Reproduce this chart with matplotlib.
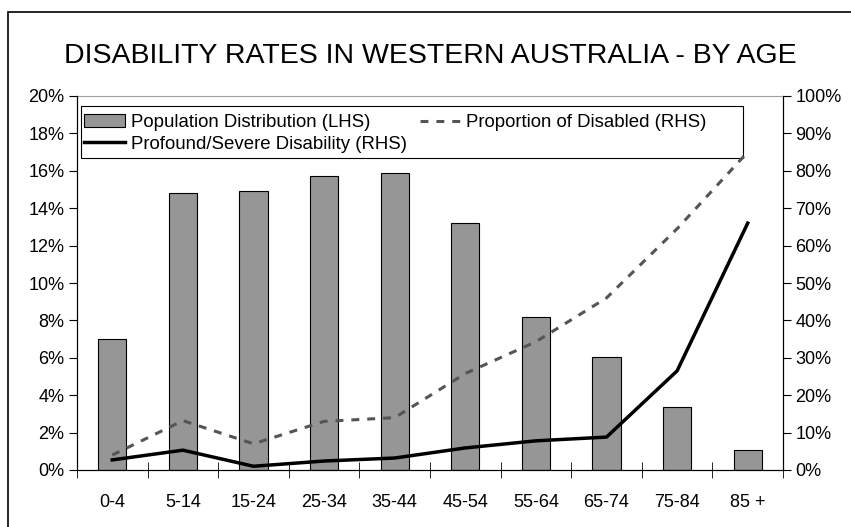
import matplotlib.pyplot as plt
import numpy as np
from matplotlib.patches import Rectangle
from matplotlib.ticker import PercentFormatter

plt.rcParams['font.family'] = ['Liberation Sans', 'DejaVu Sans']

ages = ['0-4', '5-14', '15-24', '25-34', '35-44', '45-54', '55-64', '65-74', '75-84', '85 +']
population = [7.0, 14.8, 14.9, 15.7, 15.9, 13.2, 8.2, 6.05, 3.35, 1.07]
disabled = [4.0, 13.2, 7.0, 13.0, 14.0, 25.8, 34.3, 46.0, 64.5, 85.0]
severe = [2.7, 5.3, 1.0, 2.4, 3.2, 5.9, 7.8, 8.8, 26.5, 66.0]

W, H = 851, 527
fig = plt.figure(figsize=(W / 100, H / 100), dpi=100)
# outer chart border
fig.patches.append(Rectangle((8 / W, -0.1), 1.1, 1.1 - 12 / H, transform=fig.transFigure,
                             fill=False, edgecolor='black', linewidth=1.2))

ax = fig.add_axes([77 / W, 57 / H, 706 / W, 374 / H])
x = np.arange(len(ages))
bars = ax.bar(x, population, width=0.4, color='#969696', edgecolor='black', linewidth=0.8)
ax.set_ylim(0, 20)
ax.set_xlim(-0.5, len(ages) - 0.5)
ax.set_yticks(np.arange(0, 21, 2))
ax.yaxis.set_major_formatter(PercentFormatter(decimals=0))
ax.set_xticks(x)
ax.set_xticklabels(ages)
ax.set_xticks(np.arange(-0.5, len(ages)), minor=True)
ax.tick_params(axis='x', which='major', length=0, pad=17, labelsize=13)
ax.tick_params(axis='x', which='minor', length=11, direction='inout')
ax.tick_params(axis='y', length=6, direction='out', labelsize=13, pad=3)
ax.spines['top'].set_color('#a0a0a0')
ax.spines['top'].set_linewidth(0.8)

ax2 = ax.twinx()
ln1, = ax2.plot(x, severe, color='black', linewidth=2.5)
ln2, = ax2.plot(x, disabled, color='#555555', linewidth=2.2, linestyle=(0, (2.6, 2.6)))
ax2.set_ylim(0, 100)
ax2.set_yticks(np.arange(0, 101, 10))
ax2.yaxis.set_major_formatter(PercentFormatter(decimals=0))
ax2.tick_params(axis='y', length=6, direction='out', labelsize=13, pad=3)
ax2.spines['top'].set_visible(False)

# legend box (Excel style, wider than its contents)
ax2.add_artist(Rectangle((81 / W, 1 - 158 / H), 662 / W, 52 / H, transform=fig.transFigure,
                         facecolor='none', edgecolor='black', linewidth=0.8, clip_on=False))
ax2.legend([bars, ln1, ln2],
           ['Population Distribution (LHS)', 'Profound/Severe Disability (RHS)',
            'Proportion of Disabled (RHS)'],
           ncol=2, loc='upper left', bbox_to_anchor=(84 / W, 1 - 114 / H),
           bbox_transform=fig.transFigure, fontsize=13.4, frameon=False,
           borderpad=0, labelspacing=0.25, handlelength=2.2, handletextpad=0.3,
           columnspacing=0.7, borderaxespad=0)

fig.text(430 / W, 1 - 56 / H, 'DISABILITY RATES IN WESTERN AUSTRALIA - BY AGE',
         ha='center', va='center', fontsize=20.5)

fig.savefig('out.png', dpi=100)
